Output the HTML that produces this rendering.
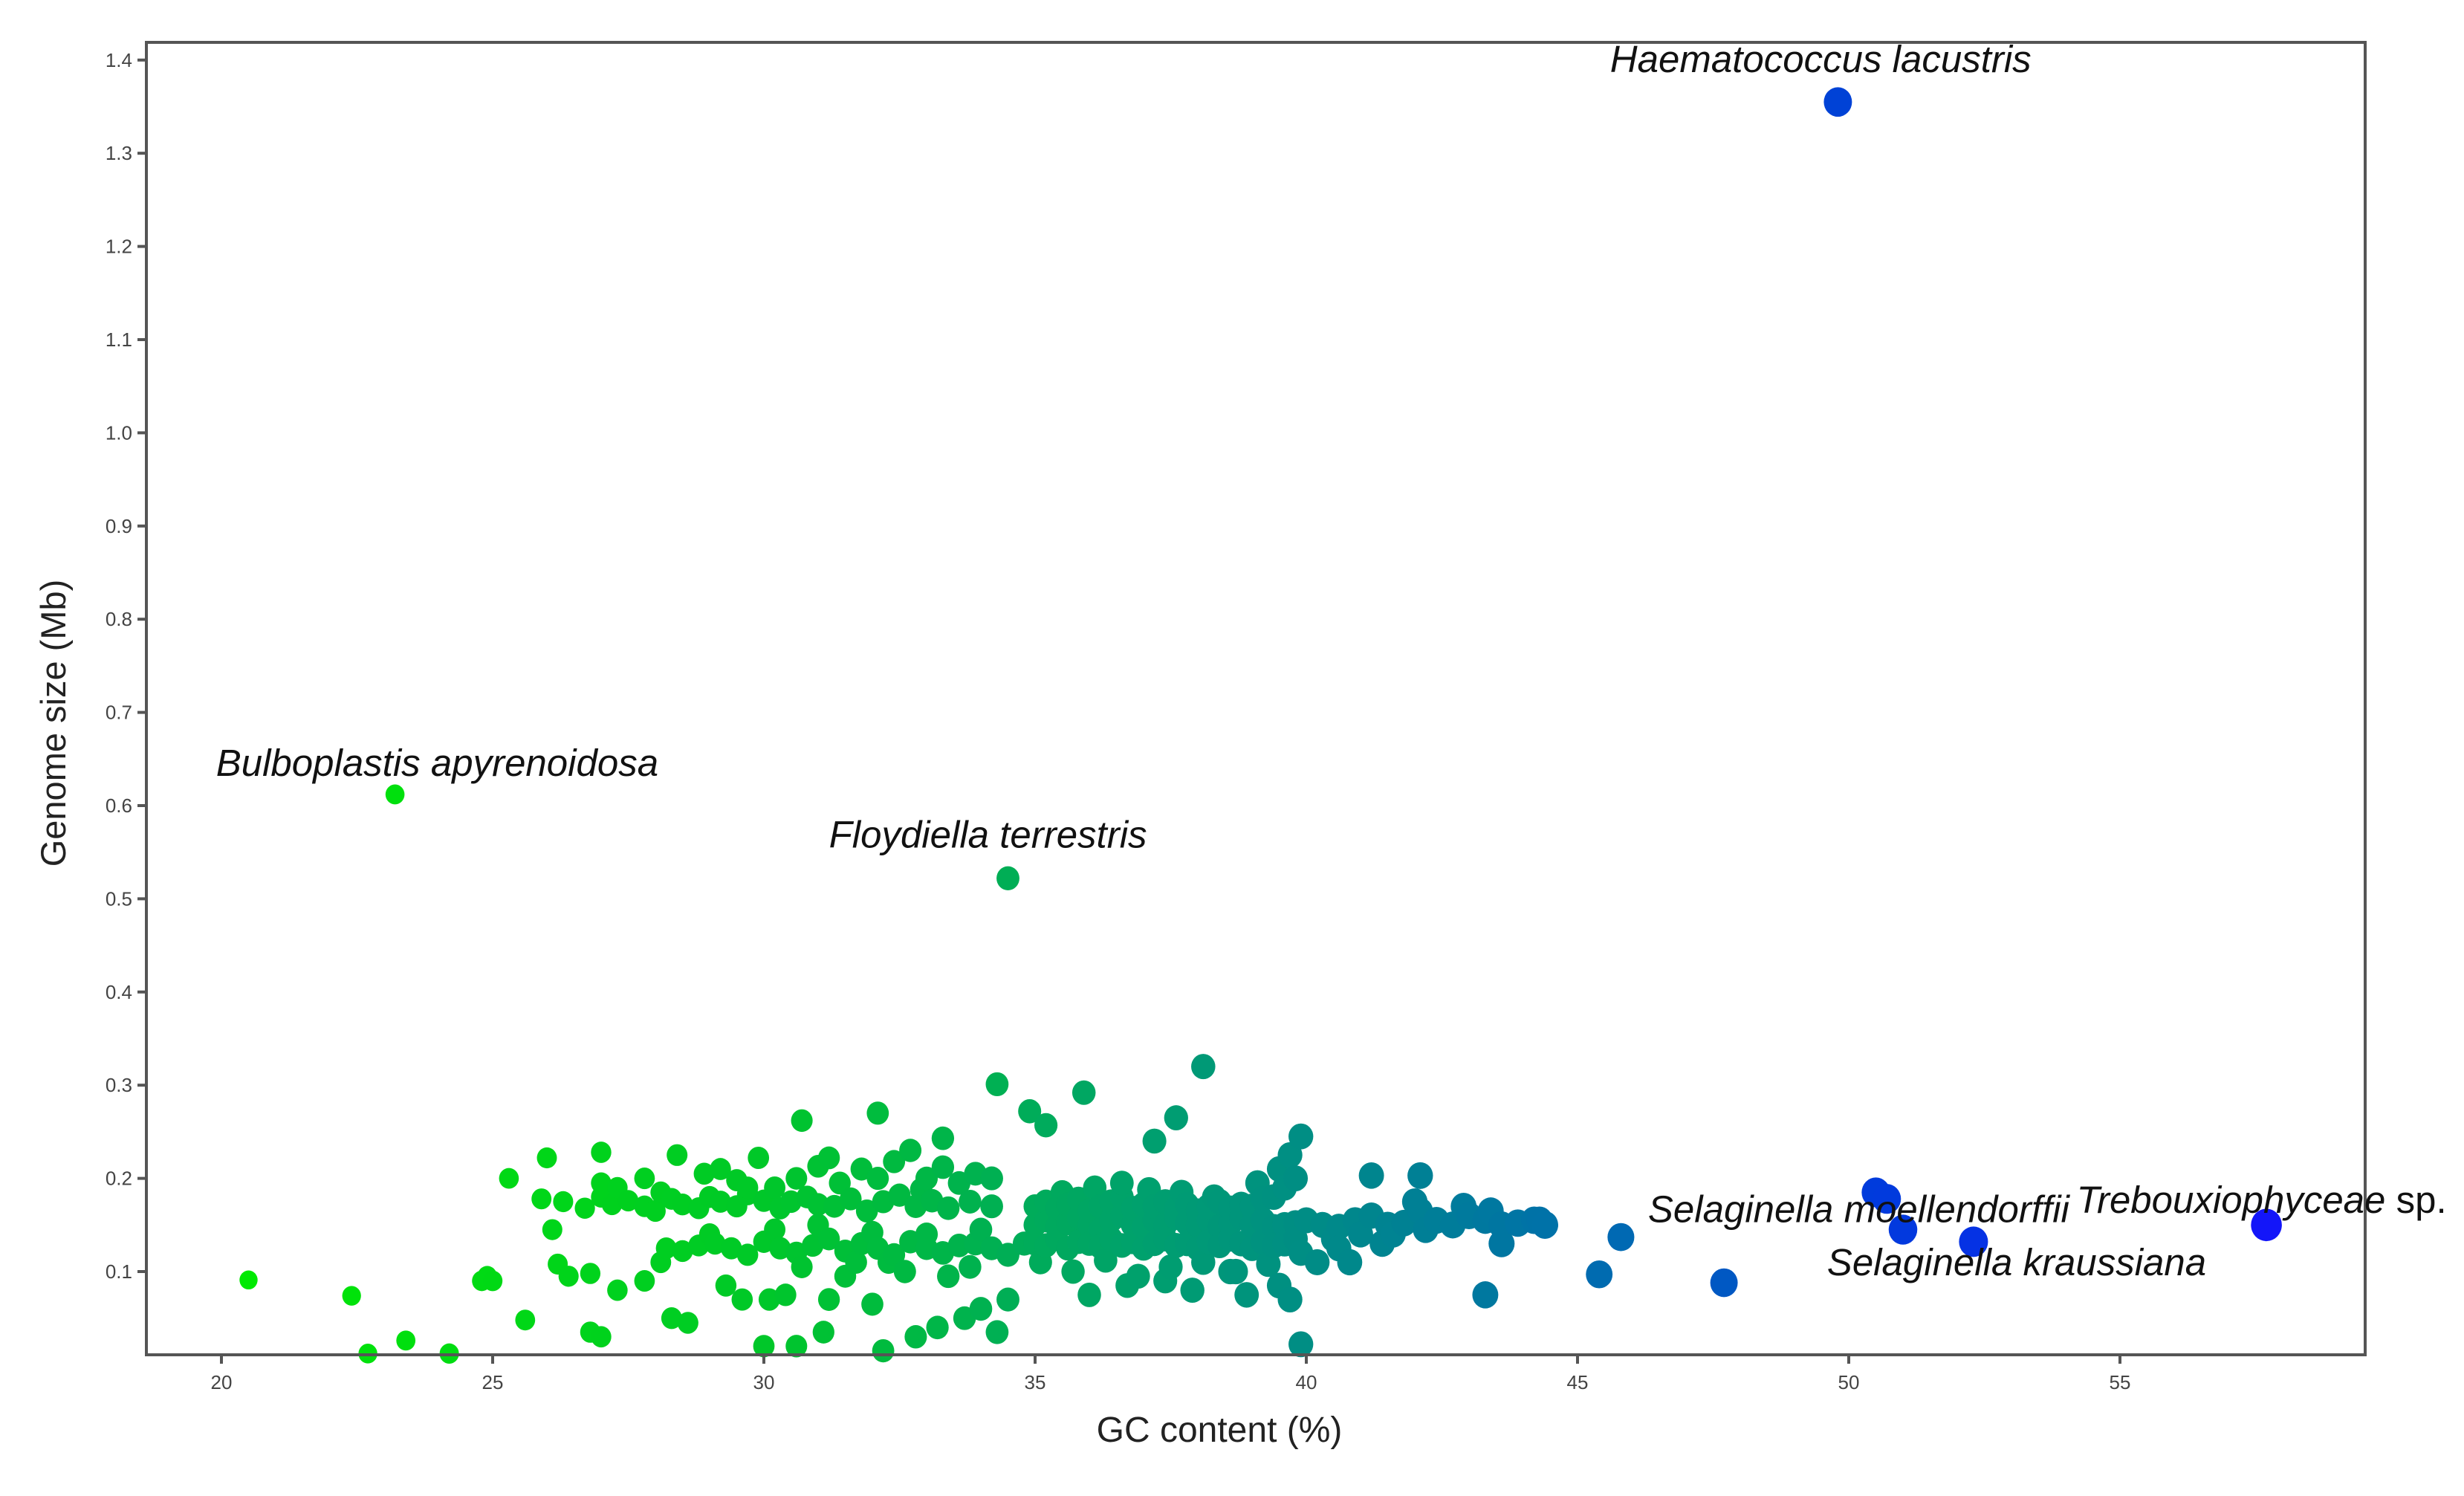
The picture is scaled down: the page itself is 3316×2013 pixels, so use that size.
<!DOCTYPE html>
<html><head><meta charset="utf-8"><style>
html,body{margin:0;padding:0;background:#fff;}
svg{display:block;font-family:"Liberation Sans",sans-serif;}
</style></head><body>
<svg id="chart" width="3316" height="2013" viewBox="0 0 3316 2013" xmlns="http://www.w3.org/2000/svg">
<rect x="0" y="0" width="3316" height="2013" fill="#fff"/>
<g id="marks"></g>
<rect x="197" y="57" width="2986" height="1766" fill="none" stroke="#555" stroke-width="4"/>
<g id="yticks"></g>
<g id="xticks"></g>
<text transform="translate(88,973) rotate(-90)" text-anchor="middle" font-size="47" fill="#222">Genome size (Mb)</text>
<text x="1641" y="1940" text-anchor="middle" font-size="48" fill="#222">GC content (%)</text>
<g id="annots" font-size="51" font-style="italic" fill="#111"></g>
</svg>
<script>
const xTicks = [20, 25, 30, 35, 40, 45, 50, 55];
const yTicks = [0.1, 0.2, 0.3, 0.4, 0.5, 0.6, 0.7, 0.8, 0.9, 1.0, 1.1, 1.2, 1.3, 1.4];
const gcContent = [
 49.8,23.2,34.5,20.5,22.4,22.7,23.4,24.2,24.8,24.9,25.0,25.3,25.6,25.9,26.0,26.1,26.2,26.4,26.8,26.8,27.0,27.0,
 34.3,34.9,35.2,35.9,38.1,37.6,32.1,30.7,33.3,37.2,39.9,
 41.2,42.1,43.3,45.4,45.8,47.7,50.5,50.7,51.0,52.3,57.7,39.9,39.7,38.9,43.6,44.3,44.4,
 26.3,26.7,27.0,27.2,27.5,27.8,28.0,28.3,28.5,28.8,29.0,29.2,29.5,29.7,30.0,30.3,30.5,30.8,31.0,31.3,31.6,31.9,32.2,32.5,32.8,33.1,33.4,33.8,34.2,
 27.0,27.3,27.8,28.4,28.9,29.2,29.5,29.9,30.2,30.6,31.0,31.4,31.8,32.1,32.4,32.7,33.0,33.3,33.6,33.9,34.2,28.1,29.7,31.2,32.9,
 28.2,28.5,28.8,29.1,29.4,29.7,30.0,30.3,30.6,30.9,31.2,31.5,31.8,32.1,32.4,32.7,33.0,33.3,33.6,33.9,34.2,34.5,34.8,29.0,30.2,31.0,32.0,33.0,34.0,30.7,31.7,32.6,33.8,
 35.0,35.2,35.4,35.6,35.8,36.0,36.2,36.4,36.6,36.8,37.0,37.2,37.4,37.6,37.8,38.0,38.2,38.4,38.6,38.8,39.0,39.2,39.4,39.6,39.8,
 35.0,35.2,35.4,35.6,35.8,36.0,36.2,36.4,36.6,36.8,37.0,37.2,37.4,37.6,37.8,38.0,38.2,38.4,38.6,38.8,39.0,39.2,39.4,39.6,39.8,
 35.0,35.2,35.4,35.6,35.8,36.0,36.2,36.4,36.6,36.8,37.0,37.2,37.4,37.6,37.8,38.0,38.2,38.4,38.6,38.8,39.0,39.2,39.4,39.6,39.8,
 35.1,35.7,36.3,36.9,37.5,38.1,38.7,39.3,39.9,
 35.5,36.1,36.6,37.1,37.7,38.3,39.1,39.5,39.7,
 40.0,40.3,40.6,40.9,41.2,41.5,41.8,42.1,42.4,42.7,43.0,43.3,43.6,43.9,44.2,44.4,40.5,41.0,41.6,42.2,42.9,43.4,40.8,41.4,42.0,
 27.3,27.8,28.1,28.3,28.6,29.3,29.6,30.0,30.1,30.4,30.6,31.1,31.2,32.0,32.2,32.8,33.2,33.7,34.0,34.3,34.5,33.4,32.3,31.5,36.0,36.7,37.4,37.9,38.6,39.5,40.2,40.6
];
const genomeSize = [
 1.355,0.612,0.522,0.091,0.074,0.012,0.026,0.012,0.090,0.095,0.090,0.200,0.048,0.178,0.222,0.145,0.108,0.095,0.098,0.035,0.030,0.228,
 0.301,0.272,0.257,0.292,0.320,0.265,0.270,0.262,0.243,0.240,0.245,
 0.203,0.203,0.075,0.097,0.137,0.088,0.185,0.178,0.145,0.132,0.150,0.022,0.070,0.075,0.130,0.155,0.150,
 0.175,0.168,0.180,0.172,0.176,0.170,0.165,0.178,0.172,0.168,0.180,0.175,0.170,0.183,0.176,0.168,0.175,0.180,0.172,0.170,0.178,0.165,0.175,0.182,0.170,0.176,0.168,0.175,0.170,
 0.195,0.190,0.200,0.225,0.205,0.210,0.198,0.222,0.190,0.200,0.213,0.195,0.210,0.200,0.218,0.230,0.200,0.212,0.195,0.205,0.200,0.185,0.190,0.222,0.188,
 0.125,0.122,0.128,0.130,0.125,0.118,0.132,0.125,0.120,0.128,0.135,0.122,0.130,0.125,0.118,0.132,0.125,0.120,0.128,0.130,0.125,0.118,0.130,0.140,0.145,0.150,0.142,0.140,0.145,0.105,0.110,0.100,0.105,
 0.150,0.155,0.148,0.152,0.158,0.150,0.145,0.155,0.160,0.150,0.148,0.155,0.150,0.158,0.152,0.150,0.155,0.148,0.152,0.158,0.150,0.155,0.148,0.150,0.152,
 0.130,0.128,0.135,0.125,0.132,0.130,0.127,0.135,0.128,0.132,0.125,0.130,0.135,0.128,0.130,0.125,0.132,0.128,0.135,0.130,0.125,0.132,0.128,0.130,0.135,
 0.170,0.175,0.168,0.172,0.178,0.165,0.170,0.175,0.180,0.168,0.172,0.170,0.175,0.168,0.172,0.165,0.170,0.175,0.168,0.172,0.170,0.178,0.180,0.190,0.200,
 0.110,0.100,0.112,0.095,0.105,0.110,0.100,0.108,0.120,
 0.185,0.190,0.195,0.188,0.185,0.180,0.195,0.210,0.225,
 0.155,0.150,0.148,0.155,0.160,0.150,0.152,0.165,0.155,0.150,0.160,0.155,0.150,0.152,0.155,0.150,0.135,0.140,0.140,0.145,0.170,0.165,0.110,0.130,0.175,
 0.080,0.090,0.110,0.050,0.045,0.085,0.070,0.020,0.070,0.075,0.020,0.035,0.070,0.065,0.015,0.030,0.040,0.050,0.060,0.035,0.070,0.095,0.110,0.095,0.075,0.085,0.090,0.080,0.100,0.085,0.110,0.125
];
const annotLabels = ["Haematococcus lacustris","Bulboplastis apyrenoidosa","Floydiella terrestris","Selaginella moellendorffii","Selaginella kraussiana","Trebouxiophyceae"];
const annotGc = [45.6, 19.9, 31.2, 46.3, 49.6, 54.2];
const annotSize = [1.387, 0.632, 0.555, 0.153, 0.096, 0.163];

const NS = "http://www.w3.org/2000/svg";
const X0 = 298, XU = 73.0, Y0 = 1711, YU = 1254;
function xs(v){ return X0 + (v - 20) * XU; }
function ys(v){ return Y0 - (v - 0.1) * YU; }
function colorFor(g){
  const t = Math.max(0, Math.min(1, (g - 20) / 38));
  const stops = [[0,[0,235,0]],[0.26,[0,200,40]],[0.45,[0,160,110]],[0.55,[0,135,140]],[0.7,[0,100,185]],[0.8,[0,60,220]],[1,[20,20,250]]];
  for (let i = 0; i < stops.length - 1; i++) {
    const a = stops[i], b = stops[i+1];
    if (t <= b[0]) {
      const f = (t - a[0]) / (b[0] - a[0]);
      const c = a[1].map((v, k) => Math.round(v + (b[1][k] - v) * f));
      return "rgb(" + c.join(",") + ")";
    }
  }
  return "rgb(20,20,250)";
}
const marks = document.getElementById("marks");
const order = gcContent.map((g, i) => i).sort((a, b) => gcContent[a] - gcContent[b]);
order.forEach(i => {
  const g = gcContent[i], s = genomeSize[i];
  const r = 11.5 + (g - 20) * 0.22;
  const e = document.createElementNS(NS, "ellipse");
  e.setAttribute("cx", xs(g));
  e.setAttribute("cy", ys(s));
  e.setAttribute("rx", r * 1.05);
  e.setAttribute("ry", r * 1.1);
  e.setAttribute("fill", colorFor(g));
  
  
  marks.appendChild(e);
});
const yt = document.getElementById("yticks");
yTicks.forEach(v => {
  const y = ys(v);
  const l = document.createElementNS(NS, "line");
  l.setAttribute("x1", 185); l.setAttribute("x2", 197);
  l.setAttribute("y1", y); l.setAttribute("y2", y);
  l.setAttribute("stroke", "#555"); l.setAttribute("stroke-width", 4);
  
  
  yt.appendChild(l);
  const t = document.createElementNS(NS, "text");
  t.setAttribute("x", 178); t.setAttribute("y", y + 9);
  t.setAttribute("text-anchor", "end"); t.setAttribute("font-size", 26); t.setAttribute("fill", "#444");
  t.textContent = v.toFixed(1);
  
  
  yt.appendChild(t);
});
const xt = document.getElementById("xticks");
xTicks.forEach(v => {
  const x = xs(v);
  const l = document.createElementNS(NS, "line");
  l.setAttribute("x1", x); l.setAttribute("x2", x);
  l.setAttribute("y1", 1823); l.setAttribute("y2", 1835);
  l.setAttribute("stroke", "#555"); l.setAttribute("stroke-width", 4);
  
  
  xt.appendChild(l);
  const t = document.createElementNS(NS, "text");
  t.setAttribute("x", x); t.setAttribute("y", 1869);
  t.setAttribute("text-anchor", "middle"); t.setAttribute("font-size", 26); t.setAttribute("fill", "#444");
  t.textContent = String(v);
  
  
  xt.appendChild(t);
});
const an = document.getElementById("annots");
annotLabels.forEach((lab, i) => {
  const t = document.createElementNS(NS, "text");
  t.setAttribute("x", xs(annotGc[i]));
  t.setAttribute("y", ys(annotSize[i]));
  t.textContent = lab;
  if (lab === "Trebouxiophyceae") {
    const sp = document.createElementNS(NS, "tspan");
    sp.setAttribute("font-style", "normal");
    sp.textContent = " sp.";
    t.appendChild(sp);
  }
  
  
  an.appendChild(t);
});
</script>
</body></html>
